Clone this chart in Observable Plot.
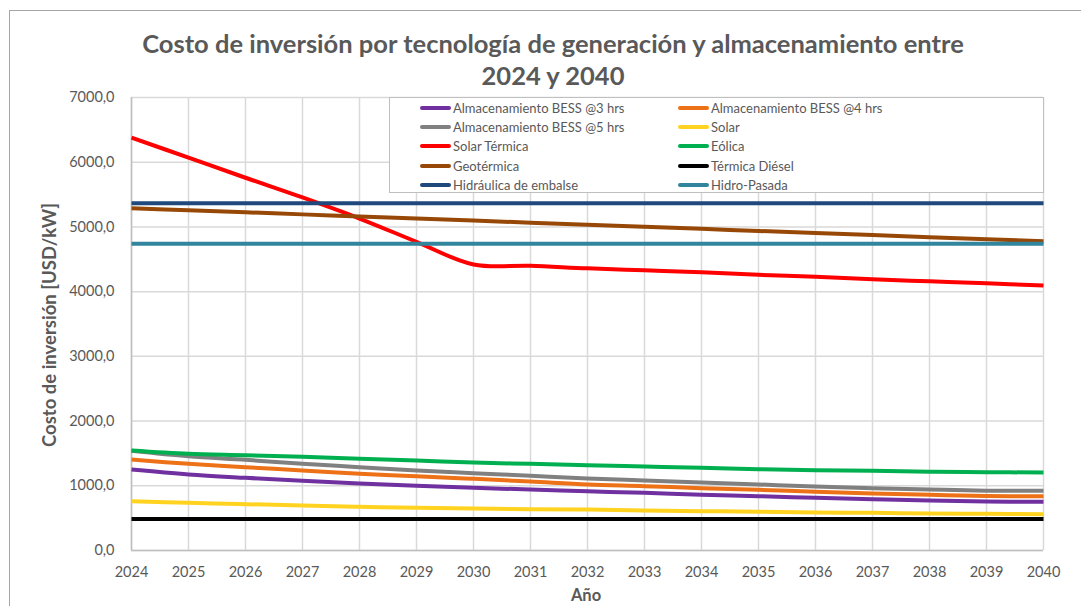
<!DOCTYPE html>
<html>
<head>
<meta charset="utf-8">
<script src="https://cdn.jsdelivr.net/npm/d3@7"></script>
<script src="https://cdn.jsdelivr.net/npm/@observablehq/plot@0.6"></script>
<style>
  html, body { margin: 0; padding: 0; background: #fff; }
  body { width: 1081px; height: 606px; overflow: hidden; position: relative; font-family: Lato, "Open Sans", sans-serif; }
  #frame { position: absolute; left: 9px; top: 10px; width: 1200px; height: 700px; border-top: 1.5px solid #a6a6a6; border-left: 1.5px solid #a6a6a6; }
  #chart { position: absolute; left: 0; top: 0; }
  #title { position: absolute; left: 0; width: 1106px; top: 27px; text-align: center; font-weight: bold; font-size: 25.5px; line-height: 32px; color: #595959; }
  #ytitle { position: absolute; left: 49px; top: 325px; transform: translate(-50%, -50%) rotate(-90deg); white-space: nowrap; font-weight: bold; font-size: 18.5px; color: #595959; }
  #xtitle { position: absolute; left: 586px; top: 595px; transform: translate(-50%, -50%); font-weight: bold; font-size: 16.5px; line-height: 18px; color: #595959; }
  #legend { position: absolute; left: 389px; top: 97px; width: 655px; height: 96px; background: #fff; border: 1px solid #bfbfbf; box-sizing: border-box; }
  .li { position: absolute; height: 18px; display: flex; align-items: center; font-size: 13px; color: #595959; white-space: nowrap; }
  .sw { width: 31px; height: 4px; border-radius: 2px; margin-right: 2px; }
</style>
</head>
<body>
<div id="frame"></div>
<div id="chart"></div>
<div id="title">Costo de inversión por tecnología de generación y almacenamiento entre<br>2024 y 2040</div>
<div id="ytitle">Costo de inversión [USD/kW]</div>
<div id="xtitle">Año</div>
<div id="legend"></div>
<script>
const years = [2024,2025,2026,2027,2028,2029,2030,2031,2032,2033,2034,2035,2036,2037,2038,2039,2040];
const yTicks = [0,1000,2000,3000,4000,5000,6000,7000];

const seriesNames = [
  "Almacenamiento BESS @3 hrs", "Almacenamiento BESS @4 hrs",
  "Almacenamiento BESS @5 hrs", "Solar",
  "Solar Térmica", "Eólica",
  "Geotérmica", "Térmica Diésel",
  "Hidráulica de embalse", "Hidro-Pasada"
];
const seriesColors = [
  "#7030A0", "#ED7117",
  "#808080", "#FFD320",
  "#FF0000", "#00B050",
  "#974806", "#000000",
  "#1F497D", "#31859C"
];

const bess3 = [1250,1175,1123,1077,1035,1000,969,943,915,891,861,839,814,793,773,757,752];
const bess4 = [1405,1339,1288,1236,1185,1149,1108,1066,1020,994,963,938,907,881,861,842,839];
const bess5 = [1540,1455,1401,1339,1288,1236,1195,1154,1113,1082,1051,1020,989,963,943,925,922];
const solar = [762,737,716,695,675,660,649,638,633,618,608,598,587,582,572,567,561];
const solarTermica = [6380,6070,5760,5455,5130,4770,4420,4400,4360,4330,4300,4260,4230,4190,4160,4130,4095];
const eolica = [1545,1494,1473,1447,1417,1391,1360,1339,1318,1298,1278,1257,1241,1231,1216,1210,1205];
const geotermica = [5290,5258,5226,5194,5162,5130,5098,5066,5034,5002,4970,4938,4906,4874,4842,4810,4778];
const diesel = [485,485,485,485,485,485,485,485,485,485,485,485,485,485,485,485,485];
const hidraulica = [5367,5367,5367,5367,5367,5367,5367,5367,5367,5367,5367,5367,5367,5367,5367,5367,5367];
const hidroPasada = [4740,4740,4740,4740,4740,4740,4740,4740,4740,4740,4740,4740,4740,4740,4740,4740,4740];

const seriesValues = [bess3, bess4, bess5, solar, solarTermica, eolica, geotermica, diesel, hidraulica, hidroPasada];

const rows = [];
seriesNames.forEach((name, i) => {
  years.forEach((yr, j) => rows.push({serie: name, year: yr, value: seriesValues[i][j]}));
});

const fmt = d => d3.format(".1f")(d).replace(".", ",");

const plot = Plot.plot({
  width: 1081,
  height: 606,
  marginLeft: 131,
  marginRight: 38,
  marginTop: 97,
  marginBottom: 56,
  style: { fontFamily: "Lato, 'Open Sans', sans-serif", fontSize: "14.5px", color: "#595959", background: "transparent", overflow: "visible" },
  x: { domain: [2024, 2040], ticks: years, label: null },
  y: { domain: [0, 7000], ticks: yTicks, label: null },
  color: { domain: seriesNames, range: seriesColors },
  marks: [
    Plot.gridX(years, { stroke: "#d9d9d9", strokeOpacity: 1, strokeWidth: 1.5 }),
    Plot.gridY(yTicks, { stroke: "#d9d9d9", strokeOpacity: 1, strokeWidth: 1.5 }),
    Plot.ruleX([2024], { stroke: "#bfbfbf", strokeWidth: 1.5 }),
    Plot.ruleY([0], { stroke: "#bfbfbf", strokeWidth: 1.5 }),
    Plot.axisX(years, { tickSize: 0, tickPadding: 16, tickFormat: d => String(d), fill: "#595959" }),
    Plot.axisY(yTicks, { tickSize: 0, tickPadding: 17, tickFormat: fmt, fill: "#595959" }),
    Plot.line(rows, { x: "year", y: "value", z: "serie", stroke: "serie", strokeWidth: 4, curve: "catmull-rom", strokeLinecap: "butt" })
  ]
});
document.getElementById("chart").appendChild(plot);

const legend = document.getElementById("legend");
seriesNames.forEach((name, i) => {
  const col = i % 2, row = Math.floor(i / 2);
  const item = document.createElement("div");
  item.className = "li";
  item.style.left = (col === 0 ? 30 : 288) + "px";
  item.style.top = (0.7 + row * 19.3) + "px";
  const sw = document.createElement("span");
  sw.className = "sw";
  sw.style.background = seriesColors[i];
  item.appendChild(sw);
  item.appendChild(document.createTextNode(name));
  legend.appendChild(item);
});
</script>
</body>
</html>
